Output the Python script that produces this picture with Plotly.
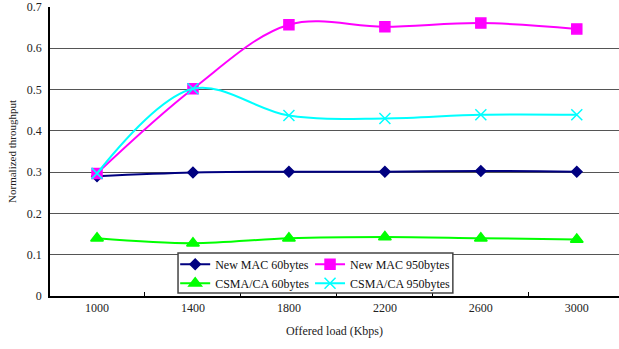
import plotly.graph_objects as go

# Offered load categories (Kbps)
loads = ["1000", "1400", "1800", "2200", "2600", "3000"]

# Normalized throughput per scheme / packet size
new_mac_60 = [0.290, 0.299, 0.301, 0.301, 0.303, 0.301]
new_mac_950 = [0.297, 0.502, 0.657, 0.652, 0.661, 0.647]
csma_60 = [0.140, 0.128, 0.140, 0.143, 0.140, 0.137]
csma_950 = [0.297, 0.502, 0.437, 0.430, 0.439, 0.439]

y_ticks = [0, 0.1, 0.2, 0.3, 0.4, 0.5, 0.6, 0.7]

FONT = "'Times New Roman', 'Liberation Serif', serif"

series = [
    ("New MAC 60bytes", new_mac_60, "#000080", "diamond", 8, "legend"),
    ("New MAC 950bytes", new_mac_950, "#FF00FF", "square", 10, "legend2"),
    ("CSMA/CA 60bytes", csma_60, "#00FF00", "triangle-up", 11, "legend"),
    ("CSMA/CA 950bytes", csma_950, "#00FFFF", "x-thin", 11, "legend2"),
]

fig = go.Figure()
for name, vals, color, sym, size, leg in series:
    fig.add_trace(go.Scatter(
        x=loads, y=vals, name=name, mode="lines+markers",
        line=dict(color=color, width=2, shape="spline", smoothing=1),
        marker=dict(symbol=sym, size=size, color=color,
                    line=dict(color=color, width=1.5)),
        legend=leg,
    ))

legend_common = dict(
    bgcolor="rgba(0,0,0,0)", borderwidth=0,
    font=dict(family=FONT, size=12, color="#111"),
    itemwidth=30, tracegroupgap=0, xanchor="left", yanchor="top",
    traceorder="normal",
)

fig.update_layout(
    width=619, height=349,
    margin=dict(l=50, r=0, t=7, b=53),
    paper_bgcolor="white", plot_bgcolor="white",
    font=dict(family=FONT, size=12, color="#222"),
    legend=dict(x=0.22, y=0.16, **legend_common),
    legend2=dict(x=0.457, y=0.16, **legend_common),
    shapes=[dict(
        type="rect", xref="paper", yref="paper",
        x0=0.225, x1=0.708, y0=0.0104, y1=0.1488,
        line=dict(color="#444", width=1.5), fillcolor="white", layer="above",
    )],
    xaxis=dict(
        type="category", range=[-0.49, 5.44],
        showline=True, linecolor="black", linewidth=1.5,
        showgrid=False, tickson="boundaries", ticks="inside",
        ticklen=4, tickcolor="black",
        tickfont=dict(family=FONT, size=12, color="#222"),
        title=dict(text="Offered load (Kbps)", standoff=12,
                   font=dict(family=FONT, size=12, color="#222")),
    ),
    yaxis=dict(
        range=[0, 0.7], tickvals=y_ticks,
        showline=True, linecolor="black", linewidth=1.5,
        showgrid=True, gridcolor="#555", gridwidth=1,
        zeroline=False, ticks="",
        ticklabelstandoff=4,
        tickfont=dict(family=FONT, size=12, color="#222"),
        title=dict(text="Normalized throughput", standoff=8,
                   font=dict(family=FONT, size=11, color="#222")),
    ),
)

fig.write_html("out.html")
